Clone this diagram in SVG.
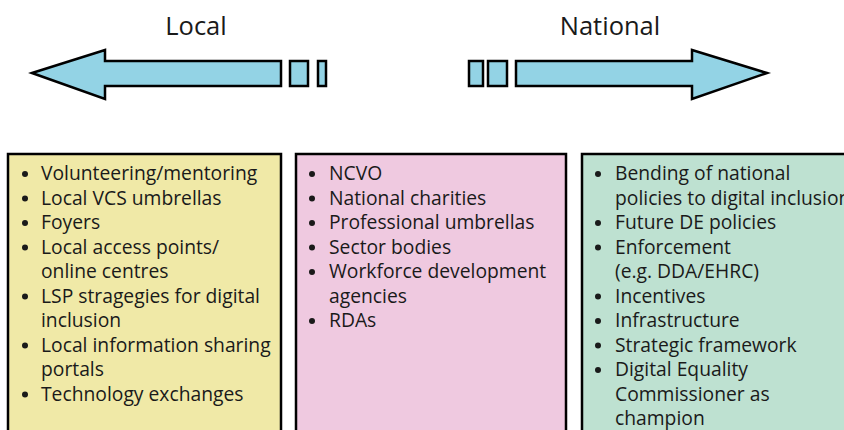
<svg xmlns="http://www.w3.org/2000/svg" width="844" height="430" viewBox="0 0 844 430">
<style>
.arr{fill:#93d3e5;stroke:#000;stroke-width:2.5;stroke-linejoin:miter}
.box{stroke:#000;stroke-width:2.5}
.t{font-family:"Open Sans","Noto Sans","Liberation Sans",sans-serif;font-size:19.3px;fill:#1a1a1a}
.h{font-family:"Open Sans","Noto Sans","Liberation Sans",sans-serif;font-size:25.5px;fill:#1a1a1a;text-anchor:middle}
.b{fill:#1a1a1a}
</style>
<rect width="844" height="430" fill="#fff"/>
<g id="arrow-local">
<polygon class="arr" points="32,73 105,50 105,61 281,61 281,86 105,86 105,99"/>
<rect class="arr" x="290" y="61" width="18" height="25"/>
<rect class="arr" x="318" y="61" width="8" height="25"/>
<text class="h" x="196" y="35">Local</text>
</g>
<g id="arrow-national">
<polygon class="arr" points="767,73 692,50 692,61 516,61 516,86 692,86 692,99"/>
<rect class="arr" x="469" y="61" width="14" height="25"/>
<rect class="arr" x="488" y="61" width="19" height="25"/>
<text class="h" x="610" y="35">National</text>
</g>
<g id="box-local">
<rect class="box" x="8" y="154" width="273" height="290" fill="#f0e9a7"/>
<g class="b"><circle cx="25" cy="174" r="3"/><circle cx="25" cy="198.5" r="3"/><circle cx="25" cy="223" r="3"/><circle cx="25" cy="247.5" r="3"/><circle cx="25" cy="296.5" r="3"/><circle cx="25" cy="345.5" r="3"/><circle cx="25" cy="394.5" r="3"/></g>
<text class="t" x="41" y="180">Volunteering/mentoring</text>
<text class="t" x="41" y="204.5">Local VCS umbrellas</text>
<text class="t" x="41" y="229">Foyers</text>
<text class="t" x="41" y="253.5">Local access points/</text>
<text class="t" x="41" y="278">online centres</text>
<text class="t" x="41" y="302.5">LSP stragegies for digital</text>
<text class="t" x="41" y="327">inclusion</text>
<text class="t" x="41" y="351.5">Local information sharing</text>
<text class="t" x="41" y="376">portals</text>
<text class="t" x="41" y="400.5">Technology exchanges</text>
</g>
<g id="box-national-bodies">
<rect class="box" x="296" y="154" width="270" height="290" fill="#efc9e0"/>
<g class="b"><circle cx="312" cy="174" r="3"/><circle cx="312" cy="198.5" r="3"/><circle cx="312" cy="223" r="3"/><circle cx="312" cy="247.5" r="3"/><circle cx="312" cy="272" r="3"/><circle cx="312" cy="321" r="3"/></g>
<text class="t" x="329" y="180">NCVO</text>
<text class="t" x="329" y="204.5">National charities</text>
<text class="t" x="329" y="229">Professional umbrellas</text>
<text class="t" x="329" y="253.5">Sector bodies</text>
<text class="t" x="329" y="278">Workforce development</text>
<text class="t" x="329" y="302.5">agencies</text>
<text class="t" x="329" y="327">RDAs</text>
</g>
<g id="box-national-policy">
<rect class="box" x="582" y="154" width="280" height="290" fill="#bee1d1"/>
<g class="b"><circle cx="598" cy="174" r="3"/><circle cx="598" cy="223" r="3"/><circle cx="598" cy="247.5" r="3"/><circle cx="598" cy="296.5" r="3"/><circle cx="598" cy="321" r="3"/><circle cx="598" cy="345.5" r="3"/><circle cx="598" cy="370" r="3"/></g>
<text class="t" x="615" y="180">Bending of national</text>
<text class="t" x="615" y="204.5">policies to digital inclusion</text>
<text class="t" x="615" y="229">Future DE policies</text>
<text class="t" x="615" y="253.5">Enforcement</text>
<text class="t" x="615" y="278">(e.g. DDA/EHRC)</text>
<text class="t" x="615" y="302.5">Incentives</text>
<text class="t" x="615" y="327">Infrastructure</text>
<text class="t" x="615" y="351.5">Strategic framework</text>
<text class="t" x="615" y="376">Digital Equality</text>
<text class="t" x="615" y="400.5">Commissioner as</text>
<text class="t" x="615" y="425">champion</text>
</g>
</svg>
